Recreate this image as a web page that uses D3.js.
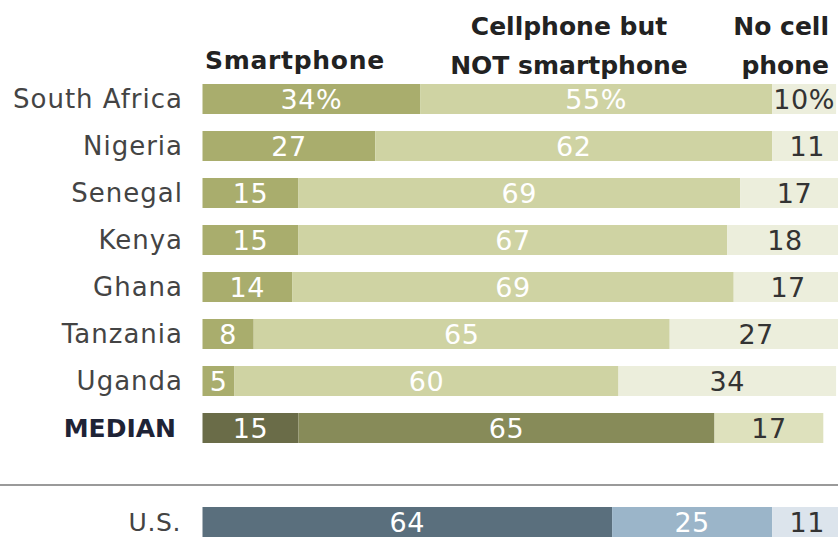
<!DOCTYPE html>
<html>
<head>
<meta charset="utf-8">
<script src="https://cdn.jsdelivr.net/npm/d3@7"></script>
<style>
  html, body { margin: 0; padding: 0; background: #fff; overflow: hidden; }
  svg { display: block; }
</style>
</head>
<body>
<script>
// ---- Data ----
const countries = ["South Africa", "Nigeria", "Senegal", "Kenya", "Ghana", "Tanzania", "Uganda", "MEDIAN", "U.S."];
const smartphone = [34, 27, 15, 15, 14, 8, 5, 15, 64];
const cellNotSmart = [55, 62, 69, 67, 69, 65, 60, 65, 25];
const noCell = [10, 11, 17, 18, 17, 27, 34, 17, 11];
const seriesNames = ["Smartphone", "Cellphone but NOT smartphone", "No cell phone"];

// ---- Styles ----
const W = 838, H = 537;
const palettes = {
  country: ["#a9ad6d", "#cfd3a3", "#eceedc"],
  median:  ["#6a6c48", "#878b59", "#dee1bd"],
  us:      ["#5a6f7d", "#9bb5c9", "#dce4ec"]
};
const labelColors = ["#ffffff", "#ffffff", "#333333"];
const font = "'DejaVu Sans', sans-serif";

const svg = d3.select("body").append("svg").attr("width", W).attr("height", H);

// Row keys include a blank gap before U.S.
const rowKeys = countries.slice(0, 8).concat(["__gap"], countries.slice(8));

const x = d3.scaleLinear().domain([0, 100]).range([202.5, 842.5]);
const y = d3.scaleBand().domain(rowKeys).range([75.5, 545.5])
  .paddingInner(17 / 47).paddingOuter(8.5 / 47);

const rows = countries.map((c, i) => {
  const vals = [smartphone[i], cellNotSmart[i], noCell[i]];
  let acc = 0;
  const segs = vals.map((v, j) => {
    const s = { key: seriesNames[j], j, v, x0: acc, x1: acc + v };
    acc += v;
    return s;
  });
  const pal = c === "MEDIAN" ? palettes.median : (c === "U.S." ? palettes.us : palettes.country);
  return { country: c, i, segs, pal };
});

const g = svg.append("g");
const rowG = g.selectAll("g.row").data(rows).join("g").attr("class", "row")
  .attr("transform", d => `translate(0,${y(d.country)})`);

rowG.selectAll("rect").data(d => d.segs.map(s => ({ ...s, pal: d.pal })))
  .join("rect")
  .attr("x", s => x(s.x0))
  .attr("width", s => x(s.x1) - x(s.x0))
  .attr("y", 0)
  .attr("height", y.bandwidth())
  .attr("fill", s => s.pal[s.j]);

rowG.selectAll("text.val").data(d => d.segs.map(s => ({ ...s, first: d.i === 0 })))
  .join("text").attr("class", "val")
  .attr("x", s => (x(s.x0) + x(s.x1)) / 2)
  .attr("y", y.bandwidth() / 2)
  .attr("dy", "0.37em")
  .attr("text-anchor", "middle")
  .attr("font-family", font)
  .attr("font-size", 27)
  .attr("letter-spacing", 0.5)
  .attr("fill", s => labelColors[s.j])
  .text(s => s.first ? s.v + "%" : s.v);

// Category labels
rowG.append("text")
  .attr("x", d => d.country === "MEDIAN" ? 176 : (d.country === "U.S." ? 181 : 183))
  .attr("y", y.bandwidth() / 2)
  .attr("dy", "0.36em")
  .attr("text-anchor", "end")
  .attr("font-family", font)
  .attr("font-size", d => d.country === "MEDIAN" ? 25 : (d.country === "U.S." ? 25 : 26))
  .attr("font-weight", d => d.country === "MEDIAN" ? "bold" : "normal")
  .attr("letter-spacing", d => d.country === "MEDIAN" ? 0 : (d.country === "U.S." ? 0.6 : 1.0))
  .attr("fill", d => d.country === "MEDIAN" ? "#1e2336" : "#444")
  .text(d => d.country);

// Separator line
svg.append("line")
  .attr("x1", 0).attr("x2", W)
  .attr("y1", 485).attr("y2", 485)
  .attr("stroke", "#9a9a9a").attr("stroke-width", 2);

// Headers
const hdr = svg.append("g")
  .attr("font-family", font)
  .attr("font-weight", "bold")
  .attr("font-size", 25)
  .attr("fill", "#222");
hdr.append("text").attr("x", 205).attr("y", 69).attr("letter-spacing", 0.7).text("Smartphone");
hdr.append("text").attr("x", 569).attr("y", 35).attr("text-anchor", "middle").text("Cellphone but");
hdr.append("text").attr("x", 569).attr("y", 74).attr("text-anchor", "middle").text("NOT smartphone");
hdr.append("text").attr("x", 829).attr("y", 35).attr("text-anchor", "end").text("No cell");
hdr.append("text").attr("x", 829).attr("y", 74).attr("text-anchor", "end").text("phone");
</script>
</body>
</html>
